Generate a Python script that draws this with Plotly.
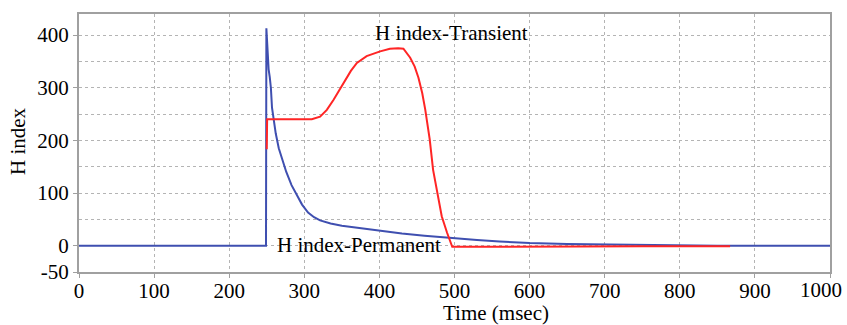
import plotly.graph_objects as go

# Data
perm_t = [0, 249, 249.5, 251, 252.5, 254, 255.5, 257, 259, 262, 266, 270, 276, 283, 290, 297, 305, 313,
          321, 335, 350, 380, 400, 430, 460, 500, 530, 560, 600, 650, 700, 750, 800, 850, 900, 1000]
perm_v = [0, 0, 413, 370, 335, 320, 300, 262, 240, 213, 185, 165, 140, 115, 95, 78, 63, 54,
          48, 42, 38, 32, 28, 23, 19, 14, 11, 8, 5, 3, 2, 1, 0, 0, 0, 0]

trans_t = [250, 250.5, 252, 280, 310, 321, 330, 339, 352, 362, 370, 383, 401, 414, 425, 432, 441, 447,
           452, 457, 461, 467, 471.5, 477, 483, 490, 495, 497, 550, 650, 750, 867]
trans_v = [183, 240, 240, 240, 240, 245, 258, 277, 309, 332, 347, 360, 369, 374, 375, 374, 357, 340,
           319, 290, 259, 202, 144, 100, 56, 25, 5, -2, -2, -1, -1, -1]

x_ticks = [0, 100, 200, 300, 400, 500, 600, 700, 800, 900, 1000]
x_labels = ["0", "100", "200", "300", "400", "500", "600", "700", "800", "900", ""]
last_x_label = "1000"  # drawn shifted left to stay inside the page, as in the reference
y_ticks = [-50, 0, 100, 200, 300, 400]

FONT = "Liberation Serif, Times New Roman, serif"
FS = 21
GRID = "#b4b4b4"
FRAME = "#a0a0a0"

W, H = 847, 325
L, R, T, B = 79, 17, 14, 53
PW, PH = W - L - R, H - T - B


def px(xp):
    return (xp - L) / PW


def py(yp):
    return 1 - (yp - T) / PH


fig = go.Figure()
fig.add_trace(go.Scatter(x=perm_t, y=perm_v, mode="lines",
                         line=dict(color="#3f4fb0", width=2), name="H index-Permanent"))
fig.add_trace(go.Scatter(x=trans_t, y=trans_v, mode="lines",
                         line=dict(color="#ff2525", width=2), name="H index-Transient"))

fig.update_layout(
    width=W, height=H,
    margin=dict(l=L, r=R, t=T, b=B, autoexpand=False),
    paper_bgcolor="white", plot_bgcolor="white",
    showlegend=False,
    font=dict(family=FONT, size=FS, color="black"),
)
fig.update_xaxes(
    range=[0, 1000], tickvals=x_ticks, ticktext=x_labels,
    showgrid=True, gridcolor=GRID, griddash="dot", gridwidth=1,
    showline=True, linecolor=FRAME, linewidth=2, mirror=True,
    ticks="outside", ticklen=4, tickcolor=FRAME,
    ticklabelstandoff=-5, automargin=False,
    zeroline=False, tickfont=dict(family=FONT, size=FS, color="black"),
)
fig.update_yaxes(
    range=[-50, 440], tickvals=y_ticks, ticktext=[str(v) for v in y_ticks],
    showgrid=True, gridcolor=GRID, griddash="dot", gridwidth=1,
    minor=dict(dtick=50, tick0=0, showgrid=True, gridcolor=GRID, griddash="dot", gridwidth=1),
    showline=True, linecolor=FRAME, linewidth=2, mirror=True,
    ticks="outside", ticklen=4, tickcolor=FRAME, automargin=False,
    zeroline=False, tickfont=dict(family=FONT, size=FS, color="black"),
)

common = dict(xref="paper", yref="paper", showarrow=False, xanchor="center", yanchor="middle",
              font=dict(family=FONT, size=FS, color="black"))
fig.add_annotation(text="H index-Transient", x=px(451), y=py(33), **common)
fig.add_annotation(text="H index-Permanent", x=px(359), y=py(245), **common)
fig.add_annotation(text="Time (msec)", x=px(496), y=py(313), **common)
fig.add_annotation(text="H index", x=px(18), y=py(141), textangle=-90, **common)
fig.add_annotation(text=last_x_label, x=px(821), y=py(290), **common)

fig.write_html("out.html")
